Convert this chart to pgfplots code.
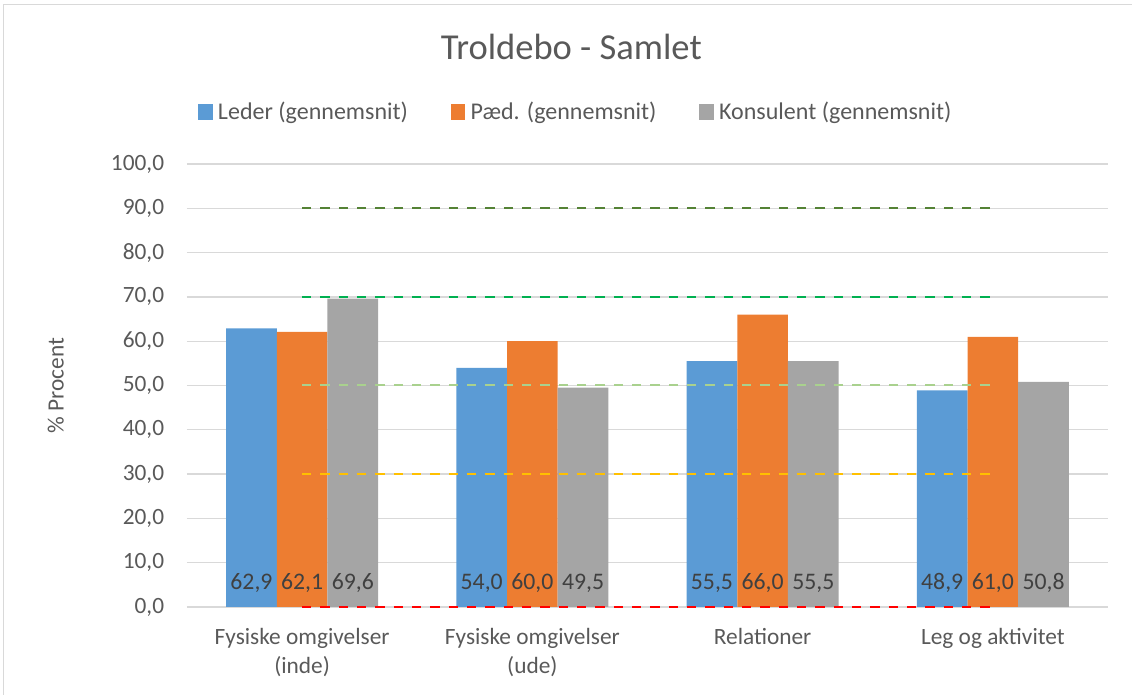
\documentclass[border=0pt]{standalone}
\usepackage{pgfplots}
\pgfplotsset{compat=1.18}
\usepackage{pgfplotstable}
\usepackage{fontspec}
\setmainfont{Carlito}
\definecolor{cBlue}{HTML}{5B9BD5}
\definecolor{cOrange}{HTML}{ED7D31}
\definecolor{cGray}{HTML}{A5A5A5}
\definecolor{txt}{HTML}{595959}
\definecolor{lbl}{HTML}{404040}
\definecolor{grid}{HTML}{D9D9D9}
\definecolor{l0}{HTML}{FF0000}
\definecolor{l30}{HTML}{FFC000}
\definecolor{l50}{HTML}{A9D18E}
\definecolor{l70}{HTML}{00B050}
\definecolor{l90}{HTML}{548235}
\newcommand{\fs}{\fontsize{17.5}{21.5}\selectfont}
\pgfplotstableread{
x leder paed konsulent
0 62.9 62.1 69.6
1 54.0 60.0 49.5
2 55.5 66.0 55.5
3 48.9 61.0 50.8
}\data
\pgfplotsset{
  sq legend/.style={legend image code/.code={\fill[##1] (0pt,-6pt) rectangle (11pt,6pt);}},
  lbls/.style={draw=none, mark=none, forget plot, nodes near coords, point meta=explicit,
    every node near coord/.append style={anchor=center, yshift=18pt, font=\fontsize{17.8}{21}\selectfont, text=lbl, inner sep=0pt}},
  refl/.style={#1, line width=1.5pt, dash pattern=on 7pt off 6.75pt, forget plot},
}
\begin{document}
\begin{tikzpicture}
\begin{axis}[
  at={(0pt,0pt)}, anchor=south west,
  scale only axis, width=690.75pt, height=332.25pt,
  xmin=-0.5, xmax=3.5, ymin=0, ymax=100,
  xtick={0,1,2,3},
  xticklabels={{Fysiske omgivelser\\(inde)},{Fysiske omgivelser\\(ude)},{Relationer},{Leg og aktivitet}},
  xticklabel style={align=center, font=\fs, text=txt, inner sep=0pt, anchor=north, yshift=-16pt},
  ytick={0,10,...,100},
  yticklabel style={font=\fs, text=txt, inner sep=0pt, anchor=east, xshift=-17pt},
  /pgf/number format/.cd, use comma, fixed, fixed zerofill, precision=1, assume math mode=true, 1000 sep={},
  /pgfplots/.cd,
  major tick length=0pt,
  axis line style={draw=none},
  ymajorgrids, grid style={draw=grid, line width=1pt},
  ylabel={\% Procent}, ylabel style={at={(axis description cs:-0.1425,0.5)}, anchor=center, font=\fs, text=txt},
  legend columns=3,
  legend style={at={(axis description cs:0.4224,1.1174)}, anchor=center, draw=none, fill=none, font=\fontsize{18}{21}\selectfont, text=txt,
    /tikz/every odd column/.append style={column sep=2pt},
    /tikz/every even column/.append style={column sep=30pt}},
  clip=false,
]
\addplot[ybar, bar width=0.22, bar shift=-0.22, fill=cBlue, draw=none, sq legend] table[x=x, y=leder] {\data};
\addlegendentry{Leder (gennemsnit)}
\addplot[ybar, bar width=0.22, bar shift=0, fill=cOrange, draw=none, sq legend] table[x=x, y=paed] {\data};
\addlegendentry{Pæd. (gennemsnit)}
\addplot[ybar, bar width=0.22, bar shift=0.22, fill=cGray, draw=none, sq legend] table[x=x, y=konsulent] {\data};
\addlegendentry{Konsulent (gennemsnit)}
\addplot[refl=l90] coordinates {(0,90) (3,90)};
\addplot[refl=l70] coordinates {(0,70) (3,70)};
\addplot[refl=l50] coordinates {(0,50) (3,50)};
\addplot[refl=l30] coordinates {(0,30) (3,30)};
\addplot[refl=l0] coordinates {(0,0) (3,0)};
\addplot[lbls] table[x expr=\thisrow{x}-0.22, y expr=0, meta=leder] {\data};
\addplot[lbls] table[x expr=\thisrow{x}, y expr=0, meta=paed] {\data};
\addplot[lbls] table[x expr=\thisrow{x}+0.22, y expr=0, meta=konsulent] {\data};
\node[anchor=base, font=\fontsize{27.4}{33}\selectfont, text=txt] at (axis description cs:0.4173,1.2363) {Troldebo - Samlet};
\end{axis}
\pgfresetboundingbox
\path[use as bounding box] (-140.25pt,-66pt) rectangle (708.75pt,455.25pt);
\draw[grid, line width=1.1pt] (-137.6pt,-66pt) -- (-137.6pt,451.9pt) -- (708.75pt,451.9pt);
\end{tikzpicture}
\end{document}
